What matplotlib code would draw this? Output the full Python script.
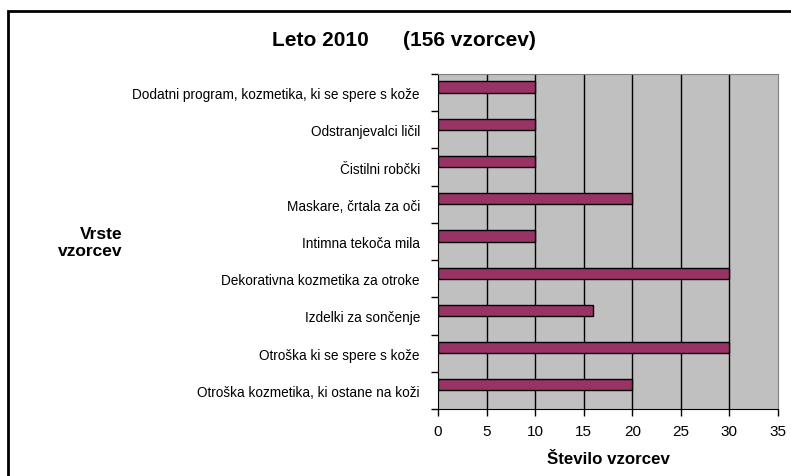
import matplotlib
matplotlib.use("Agg")
import matplotlib.pyplot as plt
from matplotlib.patches import Rectangle

###############################################################################
# data (top to bottom as in the chart)
###############################################################################
categories = ["Dodatni program, kozmetika, ki se spere s kože",
              "Odstranjevalci ličil",
              "Čistilni robčki",
              "Maskare, črtala za oči",
              "Intimna tekoča mila",
              "Dekorativna kozmetika za otroke",
              "Izdelki za sončenje",
              "Otroška ki se spere s kože",
              "Otroška kozmetika, ki ostane na koži"]
counts = [10, 10, 10, 20, 10, 30, 16, 30, 20]
xticks = [0, 5, 10, 15, 20, 25, 30, 35]

plt.rcParams["font.family"] = ["Liberation Sans", "DejaVu Sans"]

fig = plt.figure(figsize=(7.91, 4.77), dpi=100)
ax = fig.add_axes([438/791, 1-410/477, 340/791, 335/477])
ax.set_facecolor("#C0C0C0")

# bars sit in the upper half of each category slot (Excel clustered style)
ypos = [i - 0.15 for i in range(len(categories))]
ax.barh(ypos, counts, height=0.3, color="#993366", edgecolor="black",
        linewidth=1.0, zorder=3)

for x in xticks[1:-1]:
    ax.axvline(x, color="black", linewidth=1.0, zorder=1)

ax.set_xlim(0, 35)
ax.set_ylim(len(categories)-0.5, -0.5)
ax.set_xticks(xticks)
ax.set_xticklabels([str(x) for x in xticks], fontsize=11)
ax.set_yticks(range(len(categories)))
ax.set_yticklabels(categories, fontsize=9.8)
ax.set_yticks([i - 0.5 for i in range(len(categories)+1)], minor=True)
ax.tick_params(axis="y", which="major", length=0, pad=13)
ax.tick_params(axis="y", which="minor", length=5, direction="out", width=1)
ax.tick_params(axis="x", length=5, direction="out", width=1, pad=6)

ax.spines["top"].set_color("#808080")
ax.spines["right"].set_color("#808080")
ax.spines["left"].set_color("black")
ax.spines["bottom"].set_color("black")

ax.set_xlabel("Število vzorcev", fontsize=12.2, fontweight="bold", labelpad=9)

fig.text(122/791, 1-243/477, "Vrste\nvzorcev", ha="right", va="center",
         fontsize=12.5, fontweight="bold", linespacing=1.2)

fig.text(272/791, 1-40/477, "Leto 2010", ha="left", va="center",
         fontsize=15, fontweight="bold")
fig.text(403/791, 1-40/477, "(156 vzorcev)", ha="left", va="center",
         fontsize=15, fontweight="bold")

# chart area border (cut by image edges)
fig.patches.append(Rectangle((8/791, -0.1), 1.2, 1-12/477+0.1,
                             transform=fig.transFigure, fill=False,
                             edgecolor="black", linewidth=2))

fig.savefig("out.png", dpi=100)
